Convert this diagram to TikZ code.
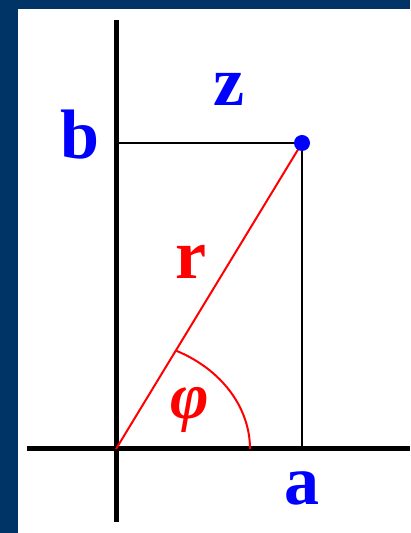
\documentclass[tikz,border=0pt]{standalone}
\usepackage{fontspec}
\setmainfont{Liberation Serif}
\definecolor{frameblue}{HTML}{003366}
\definecolor{lblblue}{HTML}{0000FF}
\definecolor{lblred}{HTML}{FF0000}
\begin{document}
\begin{tikzpicture}[x=1pt,y=1pt,
  axis/.style={line width=5pt,black},
  thin/.style={line width=2pt,black},
  redline/.style={line width=2pt,lblred},
  lbl/.style={inner sep=0pt,font=\fontsize{70}{70}\selectfont\bfseries},
  greek/.style={inner sep=0pt,font=\fontsize{66}{66}\selectfont\bfseries\itshape}]
\fill[frameblue] (0,0) rectangle (410,533);
\fill[white] (18,0) rectangle (410,524);
\useasboundingbox (0,0) rectangle (410,533);
% coordinates
\coordinate (O) at (116,84);
\coordinate (ytop) at (116,513);
\coordinate (ybot) at (116,11);
\coordinate (xl) at (27,84);
\coordinate (xr) at (410,84);
\coordinate (Z) at (302,390);
\coordinate (B) at (116,390);
\coordinate (A) at (302,84);
% axes
\draw[axis] (ybot) -- (ytop);
\draw[axis] (xl) -- (xr);
% projections
\draw[thin] (B) -- (Z);
\draw[thin] (Z) -- (A);
% radius
\draw[redline] (O) -- (Z);
\draw[redline] ([xshift=134pt]O) arc[start angle=0,end angle=63.5,x radius=134pt,y radius=110pt];
\fill[lblblue] (Z) circle (8);
% labels
\node[lbl,text=lblblue] (lz) at (229,444) {z};
\node[lbl,text=lblblue] (lb) at (80,398) {b};
\node[lbl,text=lblblue] (la) at (302,45) {a};
\node[lbl,text=lblred] (lr) at (191,271) {r};
\node[greek,text=lblred] (lphi) at (190,123) {φ};
\end{tikzpicture}
\end{document}
